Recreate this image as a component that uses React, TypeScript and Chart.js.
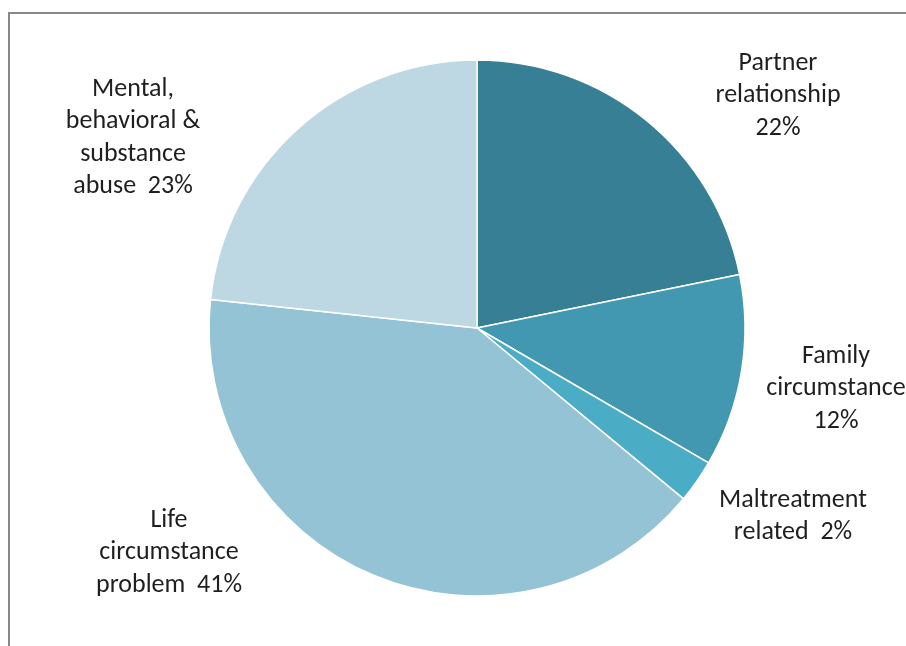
import React, { useEffect, useRef } from "react";
import { Chart, registerables } from "chart.js";

Chart.register(...registerables);

const categories = [
  "Partner relationship",
  "Family circumstance",
  "Maltreatment related",
  "Life circumstance problem",
  "Mental, behavioral & substance abuse",
];
const values = [21.8, 11.6, 2.6, 40.7, 23.3];
const pctLabels = ["22%", "12%", "2%", "41%", "23%"];
const labelLines = [
  ["Partner", "relationship", "22%"],
  ["Family", "circumstance", "12%"],
  ["Maltreatment", "related  2%"],
  ["Life", "circumstance", "problem  41%"],
  ["Mental,", "behavioral &", "substance", "abuse  23%"],
];
const colors = ["#367F95", "#4298B0", "#4BACC6", "#93C3D5", "#BDD7E3"];

const sliceLabelPlugin = {
  id: "sliceLabels",
  afterDatasetsDraw(chart: any, _args: any, opts: any) {
    const ctx = chart.ctx;
    const meta = chart.getDatasetMeta(0);
    const offsets: number[][] = opts.offsets;
    ctx.save();
    ctx.font = opts.font;
    ctx.fillStyle = opts.color;
    ctx.textAlign = "center";
    ctx.textBaseline = "alphabetic";
    meta.data.forEach((arc: any, i: number) => {
      const { x, y } = arc.getProps(["x", "y"], true);
      const lx = x + offsets[i][0];
      const ly = y + offsets[i][1];
      const lines = labelLines[i];
      lines.forEach((line, j) => {
        ctx.fillText(line, lx, ly + j * opts.lineHeight);
      });
    });
    ctx.restore();
  },
};

export default function App() {
  const ref = useRef<HTMLCanvasElement>(null);
  useEffect(() => {
    if (!ref.current) return;
    const chart = new Chart(ref.current, {
      type: "pie",
      data: {
        labels: categories.map((c, i) => c + " " + pctLabels[i]),
        datasets: [
          {
            data: values,
            backgroundColor: colors,
            borderColor: "#FFFFFF",
            borderWidth: 1.5,
          },
        ],
      },
      options: {
        animation: false,
        responsive: false,
        maintainAspectRatio: false,
        radius: 268,
        layout: { padding: { left: 200, right: 152, top: 52, bottom: 42 } },
        plugins: {
          legend: { display: false },
          tooltip: { enabled: false },
          title: { display: false },
          sliceLabels: {
            font: "26px Carlito, Lato, 'Liberation Sans', sans-serif",
            color: "#1F1F1F",
            lineHeight: 32.3,
            offsets: [
              [301, -258],
              [359, 35],
              [316, 179],
              [-308, 199],
              [-344, -232],
            ],
          },
        } as any,
      },
      plugins: [sliceLabelPlugin],
    });
    return () => chart.destroy();
  }, []);

  return (
    <div
      style={{
        position: "fixed",
        left: 0,
        top: 0,
        width: 906,
        height: 646,
        background: "#FFFFFF",
        overflow: "hidden",
      }}
    >
      <div
        style={{
          position: "absolute",
          left: 8,
          top: 12,
          width: 906,
          height: 700,
          borderLeft: "2px solid #888888",
          borderTop: "2px solid #888888",
        }}
      />
      <canvas
        ref={ref}
        width={906}
        height={646}
        style={{ position: "absolute", left: 0, top: 0, width: 906, height: 646 }}
      />
    </div>
  );
}
